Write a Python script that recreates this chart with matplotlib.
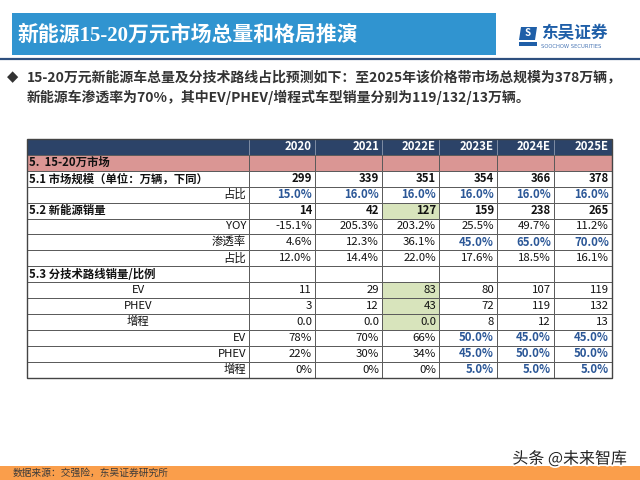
import matplotlib
matplotlib.use("Agg")
import matplotlib.pyplot as plt
from matplotlib.patches import Rectangle, Polygon
import matplotlib.patheffects as pe

plt.rcParams["font.family"] = ["Noto Sans CJK SC", "DejaVu Sans"]

# ---- data ----
years = ["2020", "2021", "2022E", "2023E", "2024E", "2025E"]
market_size = [299, 339, 351, 354, 366, 378]
market_share = [15.0, 16.0, 16.0, 16.0, 16.0, 16.0]
nev_sales = [14, 42, 127, 159, 238, 265]
nev_yoy = [-15.1, 205.3, 203.2, 25.5, 49.7, 11.2]
nev_penetration = [4.6, 12.3, 36.1, 45.0, 65.0, 70.0]
nev_share = [12.0, 14.4, 22.0, 17.6, 18.5, 16.1]
ev_sales = [11, 29, 83, 80, 107, 119]
phev_sales = [3, 12, 43, 72, 119, 132]
erev_sales = [0.0, 0.0, 0.0, 8, 12, 13]
# ints are actuals (no decimals), floats are forecasts
ev_ratio = [78, 70, 66, 50.0, 45.0, 45.0]
phev_ratio = [22, 30, 34, 45.0, 50.0, 50.0]
erev_ratio = [0, 0, 0, 5.0, 5.0, 5.0]

title = "新能源15-20万元市场总量和格局推演"
bullet = ["15-20万元新能源车总量及分技术路线占比预测如下：至2025年该价格带市场总规模为378万辆，",
          "新能源车渗透率为70%，其中EV/PHEV/增程式车型销量分别为119/132/13万辆。"]
source = "数据来源：交强险，东吴证券研究所"

# ---- style ----
NAVY = "#2C4368"
PINK = "#DA9694"
GREEN = "#D8E4BC"
BLUE_TXT = "#2B5797"
GRID = "#5a5a5a"


def num(v):
    return f"{v:.1f}" if isinstance(v, float) else str(v)


def pct(v):
    return f"{v:.1f}%" if isinstance(v, float) else f"{v}%"


def fmt1(v):
    return f"{v:.1f}%"


# rows: label, label align, cell texts, bold values, blue flags, bold label
blue_fc = [False, False, False, True, True, True]
rows = [
    ("5.  15-20万市场", "left", [""] * 6, False, [False] * 6, True),
    ("5.1 市场规模（单位：万辆，下同）", "left", [num(v) for v in market_size], True, [False] * 6, True),
    ("占比", "right", [fmt1(v) for v in market_share], True, [True] * 6, False),
    ("5.2 新能源销量", "left", [num(v) for v in nev_sales], True, [False] * 6, True),
    ("YOY", "right", [fmt1(v) for v in nev_yoy], False, [False] * 6, False),
    ("渗透率", "right", [fmt1(v) for v in nev_penetration], False, blue_fc, False),
    ("占比", "right", [fmt1(v) for v in nev_share], False, [False] * 6, False),
    ("5.3 分技术路线销量/比例", "left", [""] * 6, False, [False] * 6, True),
    ("EV", "center", [num(v) for v in ev_sales], False, [False] * 6, False),
    ("PHEV", "center", [num(v) for v in phev_sales], False, [False] * 6, False),
    ("增程", "center", [num(v) for v in erev_sales], False, [False] * 6, False),
    ("EV", "right", [pct(v) for v in ev_ratio], False, blue_fc, False),
    ("PHEV", "right", [pct(v) for v in phev_ratio], False, blue_fc, False),
    ("增程", "right", [pct(v) for v in erev_ratio], False, blue_fc, False),
]
green_cells = {(3, 2), (8, 2), (9, 2), (10, 2)}

# ---- layout (pixels) ----
col_edges = [27, 249, 315, 382, 439, 497, 554, 612]
top = 139
row_h = 15.9
fs = 8.2

fig = plt.figure(figsize=(6.4, 4.8), dpi=100)
ax = fig.add_axes([0, 0, 1, 1])
ax.set_xlim(0, 640)
ax.set_ylim(480, 0)
ax.axis("off")

# title bar
ax.add_patch(Rectangle((12, 13), 484, 42, color="#3094D0", lw=0))
ax.text(18, 35, title, color="white", fontsize=15, fontweight="bold", va="center",
        family=["Liberation Serif", "Noto Sans CJK SC"])
ax.plot([0, 640], [59, 59], color="#2E4F7E", lw=1.6)

# logo
ax.add_patch(Polygon([(521, 27), (537, 27), (535, 40), (519, 40)], color="#1F5FA8", lw=0))
ax.text(528, 33.5, "S", color="white", fontsize=7, fontweight="bold", ha="center", va="center")
ax.add_patch(Rectangle((519, 42), 18, 4, color="#1F5FA8", lw=0))
ax.text(541, 33.5, "东吴证券", color="#1F5FA8", fontsize=12, fontweight="bold", va="center")
ax.text(541, 46, "SOOCHOW SECURITIES", color="#4A77B5", fontsize=3.8, va="center",
        family=["DejaVu Sans"])

# bullet text
ax.text(7, 77, "◆", color="#333333", fontsize=10.5, va="center", family=["DejaVu Sans"])
for i, line in enumerate(bullet):
    ax.text(27, 77 + i * 20, line, color="#333333", fontsize=10, fontweight="bold", va="center")

# table header
y0 = top
for c in range(len(col_edges) - 1):
    ax.add_patch(Rectangle((col_edges[c], y0), col_edges[c + 1] - col_edges[c], row_h,
                           facecolor=NAVY, edgecolor="#8a97ad", lw=0.5))
for j, yr in enumerate(years):
    ax.text(col_edges[j + 2] - 3, y0 + row_h / 2, yr, color="white", fontsize=fs,
            fontweight="bold", ha="right", va="center")

# table body
for i, (label, align, cells, bold_val, blue, bold_lab) in enumerate(rows):
    y = top + (i + 1) * row_h
    pink = i == 0
    for c in range(len(col_edges) - 1):
        fc = PINK if pink else "white"
        if (i, c - 1) in green_cells:
            fc = GREEN
        ax.add_patch(Rectangle((col_edges[c], y), col_edges[c + 1] - col_edges[c], row_h,
                               facecolor=fc, edgecolor=GRID, lw=0.7))
    if align == "left":
        lx = col_edges[0] + 2
    elif align == "right":
        lx = col_edges[1] - 3
    else:
        lx = (col_edges[0] + col_edges[1]) / 2
    ax.text(lx, y + row_h / 2, label, fontsize=fs, ha=align, va="center", color="#111111",
            fontweight="bold" if bold_lab else "normal")
    for j, t in enumerate(cells):
        if not t:
            continue
        b = blue[j]
        ax.text(col_edges[j + 2] - 3, y + row_h / 2, t, fontsize=fs, ha="right", va="center",
                color=BLUE_TXT if b else "#111111",
                fontweight="bold" if (bold_val or b) else "normal")

# outer border
n = len(rows) + 1
ax.add_patch(Rectangle((col_edges[0], top), col_edges[-1] - col_edges[0], n * row_h,
                       fill=False, edgecolor="#444444", lw=1.0))

# footer
ax.add_patch(Rectangle((0, 466), 640, 14, color="#FA9E4B", lw=0))
ax.text(13, 473, source, fontsize=7, color="#3a3a3a", va="center")
ax.text(627, 459, "头条 @未来智库", fontsize=11.5, color="#222222", ha="right", va="center",
        path_effects=[pe.withStroke(linewidth=2.5, foreground="white")])

fig.savefig("out.png", dpi=100)
